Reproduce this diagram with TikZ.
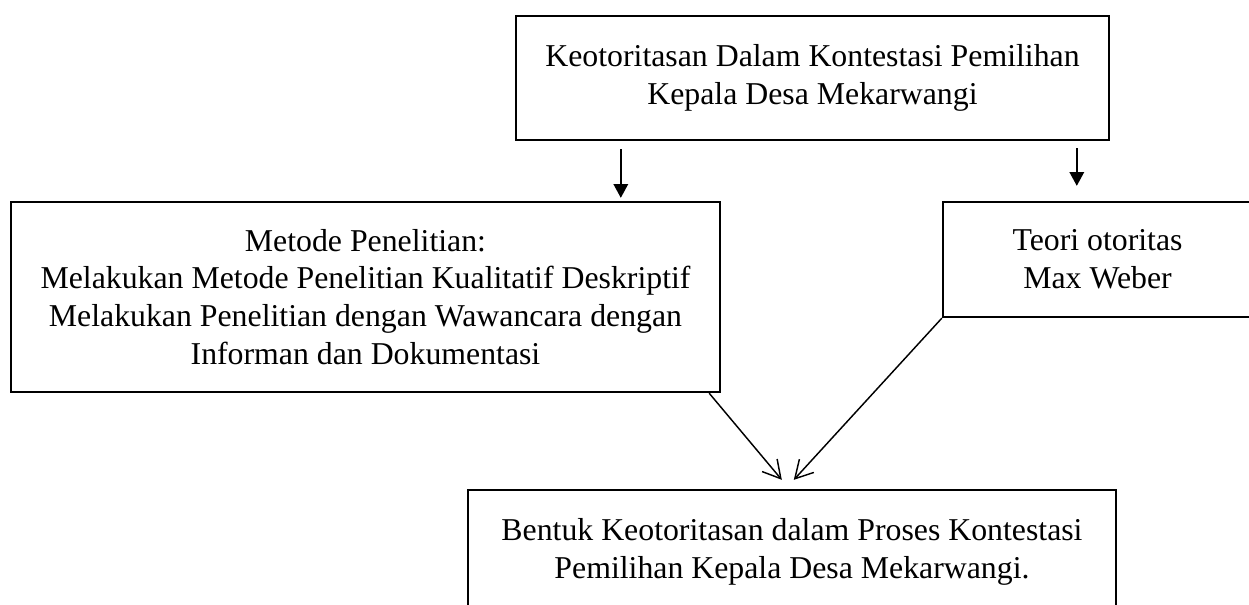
\documentclass[tikz,border=0pt]{standalone}
\usepackage{fontspec}
\setmainfont{Liberation Serif}
\usetikzlibrary{arrows.meta,calc}
\tikzset{
  box/.style={draw=black, line width=0.9pt, rectangle, inner sep=0pt, align=center,
    font=\fontsize{12pt}{14.3pt}\selectfont},
  tri/.style={line width=0.55pt, -{Triangle[length=5.2pt,width=5.5pt]}},
  barb/.style={line width=0.55pt, -{Straight Barb[length=6.6pt,width=7.4pt]}}
}
\begin{document}
\begin{tikzpicture}[x=0.3774pt, y=-0.3774pt]
\useasboundingbox (0,0) rectangle (1249,604);
\clip (0,0) rectangle (1249,604);
\node[box, minimum width=593*0.3774pt, minimum height=124*0.3774pt] (top) at (812.5,78)
  {Keotoritasan Dalam Kontestasi Pemilihan\\Kepala Desa Mekarwangi};
\node[box, minimum width=709*0.3774pt, minimum height=190*0.3774pt] (left) at (365.5,297)
  {Metode Penelitian:\\Melakukan Metode Penelitian Kualitatif Deskriptif\\Melakukan Penelitian dengan Wawancara dengan\\Informan dan Dokumentasi};
\node[box, minimum width=309*0.3774pt, minimum height=115*0.3774pt] (right) at (1097.5,259.5)
  {Teori otoritas\\Max Weber};
\node[box, minimum width=648*0.3774pt, minimum height=124*0.3774pt] (bottom) at (792,552)
  {Bentuk Keotoritasan dalam Proses Kontestasi\\Pemilihan Kepala Desa Mekarwangi.};
\draw[tri] ($(top.south west)+(106,8)$) -- ($(left.north west)+(611,-3)$);
\draw[tri] ($(top.south west)+(562,7)$) -- ($(right.north west)+(135,-15)$);
\draw[barb] ($(left.south east)+(-12,0)$) -- ($(bottom.north west)+(315,-9)$);
\draw[barb] (right.south west) -- ($(bottom.north west)+(327,-9)$);
\end{tikzpicture}
\end{document}
